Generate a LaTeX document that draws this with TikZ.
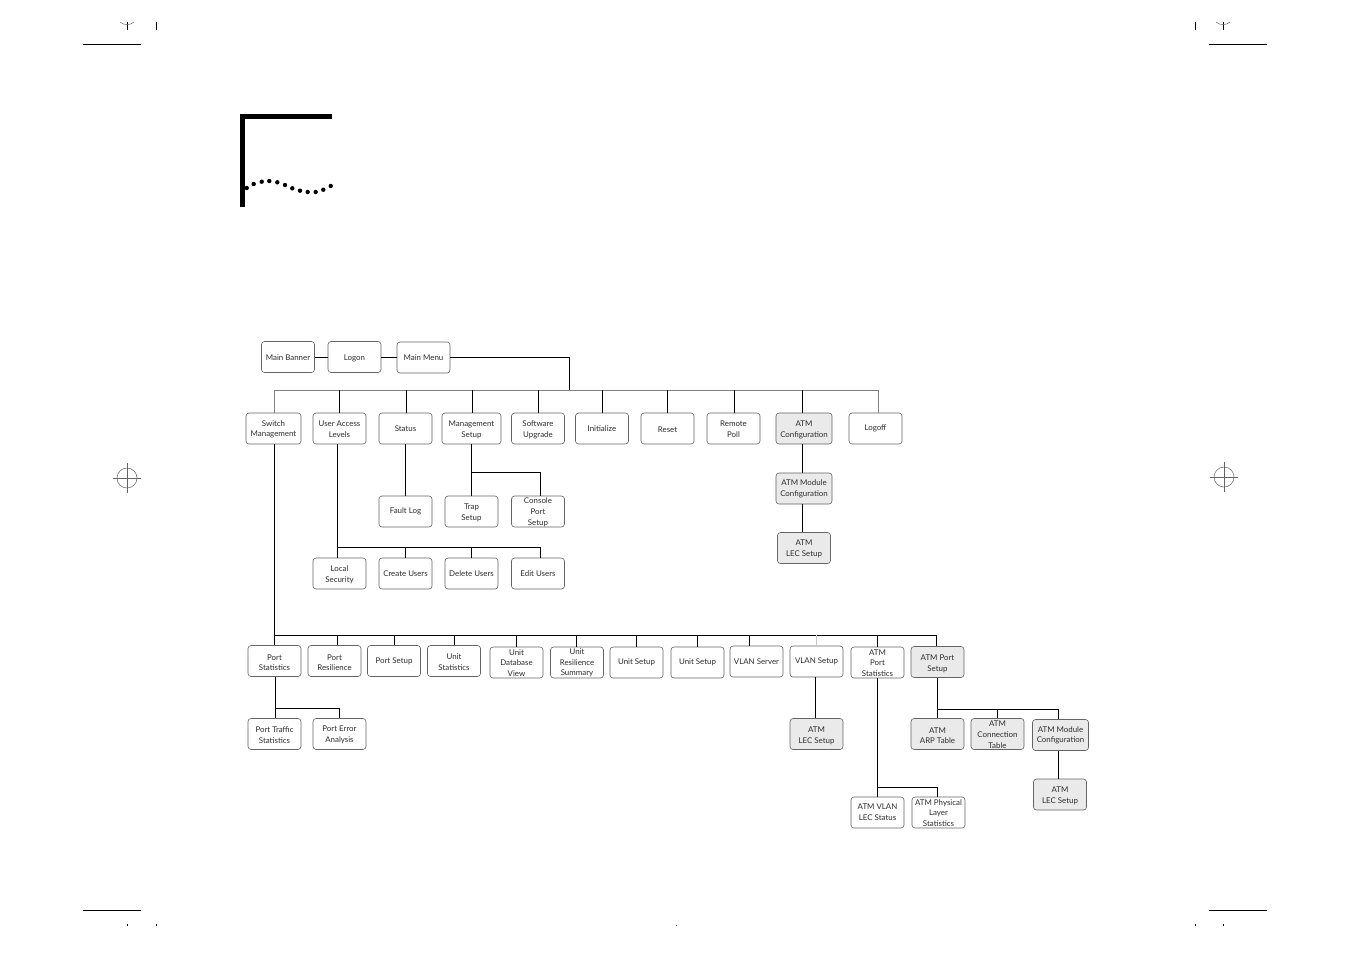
\documentclass[tikz,border=0pt]{standalone}
\usepackage{xcolor}
\usepackage{fontspec}
\setmainfont{Lato}
\usepackage{tikz}
\definecolor{drawColor}{RGB}{0,0,0}
\definecolor{boxColor}{RGB}{100,100,100}
\definecolor{shadeColor}{RGB}{234,234,234}
\definecolor{busColor}{RGB}{130,130,130}
\definecolor{paleColor}{RGB}{200,200,200}
\definecolor{textColor}{RGB}{45,45,45}
\tikzset{menuBox/.style = {draw=boxColor,line width=0.6pt,rounded corners=3pt,minimum width=53pt,minimum height=31pt,inner sep=0pt,align=center,text=textColor,font=\fontsize{7.9}{10.7}\selectfont}}
\tikzset{atmBox/.style = {menuBox,fill=shadeColor}}
\tikzset{lowText/.style = {execute at begin node={\rule{0pt}{#1pt}}}}
\tikzset{lowPair/.style = {execute at begin node={\rule{0pt}{\dimexpr 16.5pt+#1pt*2\relax}}}}
\tikzset{lowTriple/.style = {execute at begin node={\rule{0pt}{\dimexpr 27.2pt+#1pt*2\relax}}}}
\tikzset{link/.style = {draw=drawColor,line width=0.85pt}}
\tikzset{busLink/.style = {draw=busColor,line width=0.85pt}}
\tikzset{cropLine/.style = {draw=drawColor,line width=0.8pt}}
\begin{document}
\begin{tikzpicture}[x=1pt,y=-1pt]
\path[use as bounding box,fill=white] (0,0) rectangle (1351,954);

\path[fill=drawColor] (240,114) rectangle (332,119);

\path[fill=drawColor] (240,114) rectangle (244.5,207);

\foreach \dotx/\doty in {246.7/188,253.7/184,261.7/181.7,269.3/181,277.3/182.3,285/185,292.3/188.3,300/190.7,307.7/192,315.7/192,323.3/189.7,330.7/186}
  \path[fill=drawColor] (\dotx,\doty) circle (2.2);

\node[menuBox,lowText=7.8] (banner) at (288,357) {Main Banner};
\node[menuBox,lowText=8.5] (logon) at (354.5,357) {Logon};
\node[menuBox,lowText=6.8] (mainMenu) at (423.5,357.5) {Main Menu};

\node[menuBox,minimum width=55pt,lowPair=0.7] (switchMgmt) at (273.5,428.5) {Switch\\Management};
\node[menuBox,lowPair=0.7] (userAccess) at (339.5,428.5) {User Access\\Levels};
\node[menuBox] (status) at (405.5,428.5) {Status};
\node[menuBox,minimum width=59pt,lowPair=1.3] (mgmtSetup) at (471.5,428.5) {Management\\Setup};
\node[menuBox,lowPair=1.6] (software) at (538,428.5) {Software\\Upgrade};
\node[menuBox] (initialize) at (602,428.5) {Initialize};
\node[menuBox,lowText=7.8] (reset) at (667.5,428.5) {Reset};
\node[menuBox,lowPair=0.5] (remotePoll) at (733.5,428.5) {Remote\\Poll};
\node[atmBox,minimum width=56pt,lowPair=1] (atmConfig) at (804,428.5) {ATM\\Configuration};
\node[menuBox] (logoff) at (875.5,428.5) {Logoff};

\node[menuBox] (faultLog) at (405.5,511.5) {Fault Log};
\node[menuBox,lowPair=1.5] (trapSetup) at (471.5,511.5) {Trap\\Setup};
\node[menuBox,lowTriple=0.8] (consoleSetup) at (538,511.5) {Console\\Port\\Setup};

\node[atmBox,minimum width=56pt,lowPair=0.5] (atmModule) at (804,488.5) {ATM Module\\Configuration};
\node[atmBox,lowPair=0.5] (atmLec) at (804,548) {ATM\\LEC Setup};

\node[menuBox,lowPair=1.5] (localSec) at (339.5,573.5) {Local\\Security};
\node[menuBox] (createUsers) at (405.5,573.5) {Create Users};
\node[menuBox] (deleteUsers) at (471.5,573.5) {Delete Users};
\node[menuBox] (editUsers) at (538,573.5) {Edit Users};

\node[menuBox,lowPair=1.5] (portStats) at (274.5,661) {Port\\Statistics};
\node[menuBox,lowPair=1.5] (portRes) at (334.5,661) {Port\\Resilience};
\node[menuBox] (portSetup) at (394,661) {Port Setup};
\node[menuBox,lowPair=1.3] (unitStats) at (454,661) {Unit\\Statistics};
\node[menuBox,lowTriple=0.5] (unitDb) at (516.5,662.5) {Unit\\Database\\View};
\node[menuBox,lowTriple=0.5] (unitRes) at (577,662.5) {Unit\\Resilience\\Summary};
\node[menuBox] (unitSetupA) at (636.5,662.5) {Unit Setup};
\node[menuBox] (unitSetupB) at (697.5,662.5) {Unit Setup};
\node[menuBox] (vlanServer) at (756.5,661.5) {VLAN Server};
\node[menuBox] (vlanSetup) at (816.5,661.5) {VLAN Setup};
\node[menuBox,lowTriple=0.5] (atmPortStats) at (877.5,662.5) {ATM\\Port\\Statistics};
\node[atmBox,lowPair=1.5] (atmPortSetup) at (937.5,662) {ATM Port\\Setup};

\node[menuBox,lowPair=1] (portTraffic) at (274.5,734) {Port Traffic\\Statistics};
\node[menuBox,lowPair=0.7] (portError) at (339.5,734) {Port Error\\Analysis};
\node[atmBox,lowPair=1.5] (vlanLec) at (816.5,734) {ATM\\LEC Setup};
\node[atmBox,lowPair=1.5] (atmArp) at (937.5,734) {ATM\\ARP Table};
\node[atmBox,lowTriple=0.8] (atmConn) at (997.5,734) {ATM\\Connection\\Table};
\node[atmBox,minimum width=56pt,lowPair=0.3] (portModule) at (1060.5,735) {ATM Module\\Configuration};
\node[atmBox,lowPair=1] (portLec) at (1060,794.5) {ATM\\LEC Setup};
\node[menuBox] (atmVlan) at (877.5,812.5) {ATM VLAN\\LEC Status};
\node[menuBox,lowTriple=0.5] (atmPhys) at (938.5,812.5) {ATM Physical\\Layer\\Statistics};

\coordinate (topBusL) at (274,390);
\coordinate (topBusR) at (878,390);
\coordinate (topBusIn) at (569,390);
\coordinate (lowBusL) at (274,635);
\coordinate (lowBusR) at (936.5,635);

\draw[link] (banner.east) -- (logon.west);

\draw[link] (logon.east) -- (mainMenu.west |- logon.east);

\draw[link] (mainMenu.east) -| (topBusIn);

\draw[busLink] (topBusL) -- (topBusR);

\draw[busLink] (topBusL) -- (switchMgmt.north -| topBusL);

\draw[busLink] (topBusR) -- (logoff.north -| topBusR);

\foreach \boxName/\dropShift in {userAccess/0,status/0.5,mgmtSetup/0.5,software/0,initialize/0,reset/0,remotePoll/0.5,atmConfig/-2}
  \draw[link] ([xshift=\dropShift]\boxName.north) -- ([xshift=\dropShift]\boxName.north |- topBusL);

\draw[link] (status.south) -- (faultLog.north);

\draw[link] (mgmtSetup.south) -- (trapSetup.north);

\coordinate (trapFork) at (471.5,472.5);
\draw[link] (trapFork) -| ([xshift=2]consoleSetup.north);

\draw[link] ([xshift=-2]atmConfig.south) -- ([xshift=-2]atmModule.north);

\draw[link] ([xshift=-2]atmModule.south) -- ([xshift=-2]atmModule.south |- atmLec.north);

\coordinate (userFork) at (337.5,547.5);
\draw[link] ([xshift=-2]userAccess.south) -- ([xshift=-2]localSec.north);

\draw[link] (userFork) -| ([xshift=2]editUsers.north);

\draw[link] (createUsers.north) -- (createUsers.north |- userFork);

\draw[link] (deleteUsers.north) -- (deleteUsers.north |- userFork);

\draw[link] (switchMgmt.south -| lowBusL) -- (portStats.north -| lowBusL);

\draw[link] (lowBusL) -- (lowBusR);

\foreach \boxName/\dropShift in {portRes/2.5,portSetup/0,unitStats/0,unitDb/-0.5,unitRes/-1,unitSetupA/-0.5,unitSetupB/-0.5,vlanServer/-7.5,atmPortStats/0,atmPortSetup/-1}
  \draw[link] ([xshift=\dropShift]\boxName.north) -- ([xshift=\dropShift]\boxName.north |- lowBusL);

\draw[draw=paleColor,line width=0.85pt] (vlanSetup.north) -- (vlanSetup.north |- lowBusL);

\coordinate (portFork) at (275.5,708);
\draw[link] ([xshift=1]portStats.south) -- ([xshift=1]portTraffic.north);

\draw[link] (portFork) -| (portError.north);

\draw[link] ([xshift=-1]vlanSetup.south) -- ([xshift=-1]vlanLec.north);

\coordinate (physFork) at (877.5,787);
\draw[link] (atmPortStats.south) -- (atmVlan.north);

\draw[link] (physFork) -| ([xshift=-1]atmPhys.north);

\coordinate (setupFork) at (937.5,709);
\draw[link] (atmPortSetup.south) -- (atmArp.north);

\draw[link] (setupFork) -| ([xshift=-2]portModule.north);

\draw[link] (atmConn.north) -- (atmConn.north |- setupFork);

\draw[link] ([xshift=-2]portModule.south) -- ([xshift=-1.5]portLec.north);

\foreach \markX/\markY in {127/478,1224/477} {
  \draw[line width=0.5pt,draw=boxColor] (\markX,\markY) circle (10);
  \draw[line width=0.5pt,draw=boxColor] (\markX-14,\markY) -- (\markX+14,\markY);
  \draw[line width=0.5pt,draw=boxColor] (\markX,\markY-15) -- (\markX,\markY+15);
}

\foreach \lineL in {83,1209} {
  \draw[cropLine] (\lineL,44.5) -- (\lineL+58,44.5);
  \draw[cropLine] (\lineL,910.5) -- (\lineL+58,910.5);
}

\foreach \markX in {127,1223} {
  \draw[cropLine] (\markX,22) -- (\markX,30);
  \draw[line width=0.5pt,draw=boxColor] (\markX-7,22) .. controls (\markX-3,25.5) and (\markX+3,25.5) .. (\markX+7,22);
}

\foreach \markX in {156.5,1195.5}
  \draw[cropLine] (\markX,22) -- (\markX,30);

\foreach \markX in {127,156.5,1195.5,1223}
  \draw[cropLine] (\markX,924) -- (\markX,926);

\draw[line width=0.4pt,draw=boxColor] (676,924.5) -- (676,925.5);
\end{tikzpicture}
\end{document}
